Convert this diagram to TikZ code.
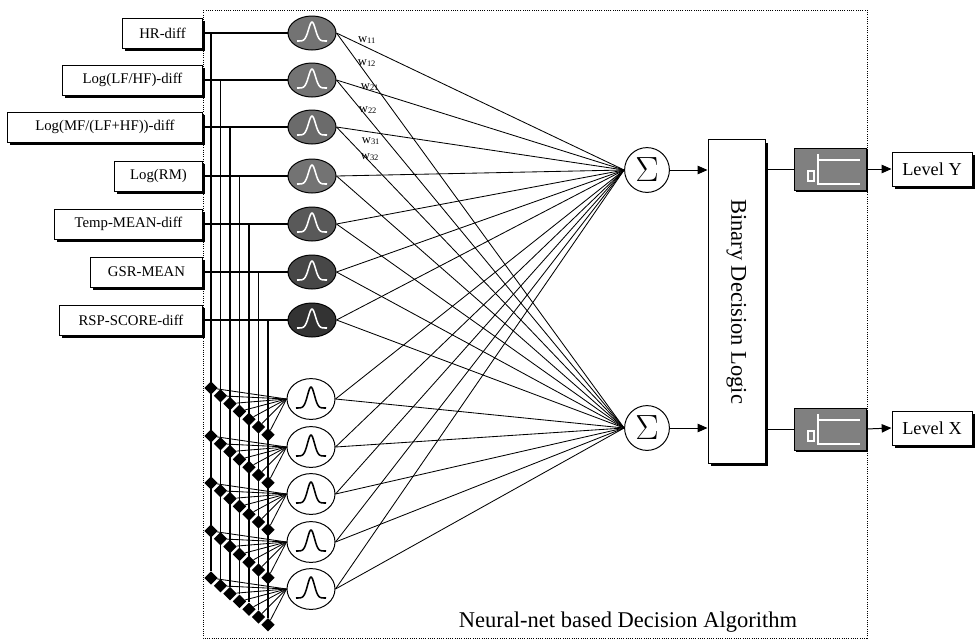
\documentclass[tikz,border=0pt]{standalone}
\usepackage{fontspec}
\setmainfont{Liberation Serif}
\usetikzlibrary{shapes.geometric, arrows.meta, shadows}

\begin{document}
\begin{tikzpicture}[x=0.025cm, y=-0.025cm,
    inbox/.style={draw, fill=white, line width=0.7pt, anchor=east, minimum height=0.75cm,
      font=\fontsize{10.5}{12}\selectfont,
      drop shadow={shadow xshift=2pt, shadow yshift=-2pt, fill=black, opacity=1}},
    rbf/.style={ellipse, draw, line width=0.7pt, inner sep=0pt, minimum width=1.2cm, minimum height=0.85cm},
    dot/.style={diamond, fill=black, inner sep=0pt, minimum size=0.34cm},
    sum/.style={circle, draw, line width=0.7pt, inner sep=0pt, minimum size=1.12cm, font=\Huge},
    swbox/.style={draw, fill=black!50, minimum width=1.8cm, minimum height=1.05cm,
      drop shadow={shadow xshift=1.5pt, shadow yshift=-1.5pt, fill=black, opacity=1}},
    outbox/.style={draw, fill=white, line width=0.7pt, minimum width=2cm, minimum height=0.85cm,
      font=\fontsize{13}{15}\selectfont,
      drop shadow={shadow xshift=2pt, shadow yshift=-2pt, fill=black, opacity=1}},
    wlab/.style={font=\small, inner sep=0pt},
    arr/.style={-{Triangle[length=7pt, width=6pt]}, line width=0.7pt}]
  \useasboundingbox (0,0) rectangle (975,640);

  % frame of the algorithm
  \draw[densely dotted, line width=0.6pt] (203,10) rectangle (867,638);

  % inputs
  \node[inbox, minimum width=2.0cm] (in1) at (203,33) {HR-diff};
  \node[inbox, minimum width=3.5cm] (in2) at (203,80) {Log(LF/HF)-diff};
  \node[inbox, minimum width=4.875cm] (in3) at (203,127) {Log(MF/(LF+HF))-diff};
  \node[inbox, minimum width=2.2cm] (in4) at (203,176) {Log(RM)};
  \node[inbox, minimum width=3.7cm] (in5) at (203,224) {Temp-MEAN-diff};
  \node[inbox, minimum width=2.8cm] (in6) at (203,272) {GSR-MEAN};
  \node[inbox, minimum width=3.575cm] (in7) at (203,320) {RSP-SCORE-diff};

  % shaded kernels
  \foreach \i/\yy/\c in {1/33/55, 2/80/55, 3/127/58, 4/176/55, 5/224/65, 6/272/72, 7/320/80} {
    \node[rbf, fill=black!\c] (g\i) at (312,\yy) {};
    \draw[white, line width=1.1pt] plot[domain=-15:15, samples=30] ({312+\x}, {\yy+8-19*exp(-(\x*\x)/24)});
    \coordinate (t\i) at ({211+9.5*(\i-1)}, \yy);
    \draw[line width=1.2pt] (in\i.east) -- (g\i.west);
  }

  % white kernels and taps
  \foreach \k/\wy in {1/399, 2/447, 3/494, 4/542, 5/589} {
    \node[rbf, fill=white, minimum height=1.02cm] (w\k) at (311,\wy) {};
    \draw[line width=1.1pt] plot[domain=-15:15, samples=30] ({311+\x}, {\wy+9-21*exp(-(\x*\x)/24)});
    \foreach \i in {1,...,7}
      \node[dot] (d\k\i) at ({211+9.5*(\i-1)}, {\wy-11+7.8*(\i-1)}) {};
  }
  \foreach \i in {1,...,7}
    \draw[line width=0.9pt] (t\i) -- (d5\i);
  \foreach \k in {1,...,5}
    \foreach \i in {1,...,7}
      \draw[line width=0.6pt] (d\k\i) -- (w\k.west);

  % summing units
  \node[sum] (s1) at (647,170) {$\Sigma$};
  \node[sum] (s2) at (647,428) {$\Sigma$};
  \foreach \i in {1,...,7}
    \foreach \s in {1,2}
      \draw[line width=0.6pt] (g\i.east) -- (s\s.west);
  \foreach \k in {1,...,5}
    \foreach \s in {1,2}
      \draw[line width=0.6pt] (w\k.east) -- (s\s.west);

  \node[wlab] (l11) at (367,40) {w\textsubscript{11}};
  \node[wlab] (l12) at (367,63) {w\textsubscript{12}};
  \node[wlab] (l21) at (370,87) {w\textsubscript{21}};
  \node[wlab] (l22) at (368,110) {w\textsubscript{22}};
  \node[wlab] (l31) at (371,141) {w\textsubscript{31}};
  \node[wlab] (l32) at (370,157) {w\textsubscript{32}};

  % decision logic
  \node[draw, fill=white, line width=0.7pt, minimum width=1.425cm, minimum height=8.075cm,
    drop shadow={shadow xshift=2pt, shadow yshift=-2pt, fill=black, opacity=1}] (bdl) at (736.5,301.5) {};
  \node[rotate=-90, font=\fontsize{16}{18}\selectfont] (bdltext) at (bdl.center) {Binary Decision Logic};
  \draw[arr] (s1.east) -- (s1.east -| bdl.west);
  \draw[arr] (s2.east) -- (s2.east -| bdl.west);

  % output switches
  \node[swbox] (sw1) at (830,169) {};
  \node[swbox] (sw2) at (830,429) {};
  \foreach \n in {sw1, sw2} {
    \draw[white, line width=1pt] (\n.center) ++(-12,-15) -- ++(0,30) -- ++(42,0);
    \draw[white, line width=1pt] (\n.center) ++(-12,-9) -- ++(42,0);
    \draw[white, line width=0.8pt] (\n.center) ++(-22,2) rectangle ++(6,10);
  }
  \draw[line width=0.7pt] (bdl.east |- sw1.west) -- (sw1.west);
  \draw[line width=0.7pt] (bdl.east |- sw2.west) -- (sw2.west);

  \node[outbox] (lvY) at (932,169) {Level Y};
  \node[outbox] (lvX) at (932,428) {Level X};
  \draw[arr] (sw1.east) -- (lvY.west);
  \draw[arr] (sw2.east) -- (lvX.west);

  \node[font=\fontsize{16}{18}\selectfont] (title) at (628,622) {Neural-net based Decision Algorithm};
\end{tikzpicture}
\end{document}
